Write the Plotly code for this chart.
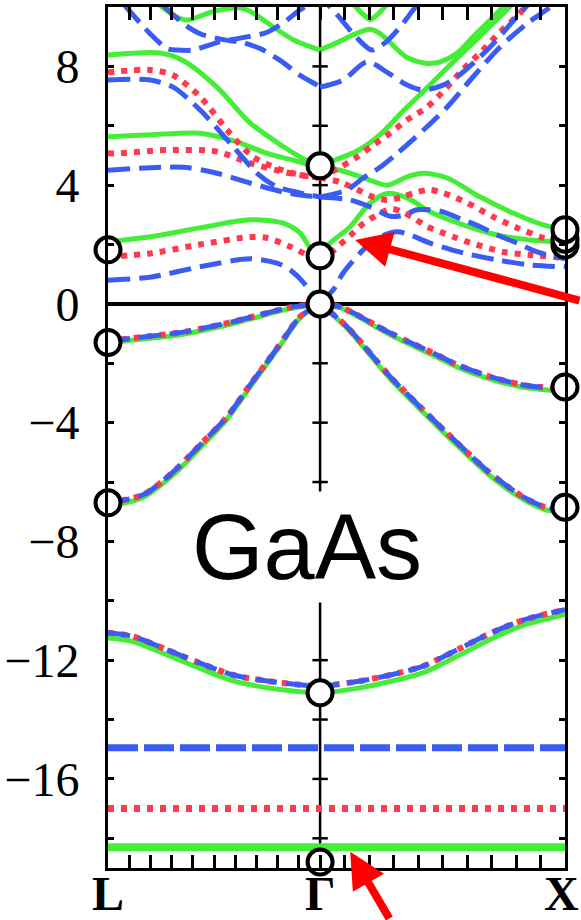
import numpy as np
import plotly.graph_objects as go

# ---------------- special k-points ----------------
K_L, K_G, K_X = 0.0, 0.866, 1.866
sym_k = [K_L, K_G, K_X]
sym_labels = ["L", "Γ", "X"]
sym_label_shift = [0, 0, -4]

# ---------------- valence bands ----------------
vb1_lg_k = [0.0, 0.102, 0.306, 0.511, 0.743, 0.866]
vb1_lg_e_blue = [-1.25, -1.15, -0.95, -0.60, -0.12, 0.0]
vb1_lg_e_green = [-1.32, -1.22, -1.02, -0.66, -0.16, 0.0]

vb2_lg_k = [0.0, 0.143, 0.266, 0.376, 0.486, 0.580, 0.650, 0.715, 0.784, 0.866]
vb2_lg_e_blue = [-6.70, -6.43, -5.66, -4.75, -3.80, -2.73, -1.95, -1.21, -0.43, 0.0]
vb2_lg_e_green = [-6.82, -6.52, -5.76, -4.85, -3.88, -2.80, -2.01, -1.26, -0.47, 0.0]

vb1_gx_k = [0.866, 0.948, 1.152, 1.344, 1.426, 1.560, 1.695, 1.806, 1.866]
vb1_gx_e_blue = [0.0, -0.10, -0.98, -1.72, -2.05, -2.45, -2.73, -2.83, -2.85]
vb1_gx_e_green = [0.0, -0.13, -1.04, -1.80, -2.13, -2.53, -2.81, -2.91, -2.93]

vb2_gx_k = [0.866, 0.976, 1.152, 1.287, 1.426, 1.560, 1.695, 1.793, 1.866]
vb2_gx_e_blue = [0.0, -0.77, -2.45, -3.57, -4.68, -5.70, -6.50, -6.87, -6.92]
vb2_gx_e_green = [0.0, -0.82, -2.52, -3.65, -4.77, -5.79, -6.58, -6.95, -7.00]

s_k = [0.0, 0.102, 0.241, 0.376, 0.511, 0.650, 0.784, 0.866, 1.017, 1.152, 1.287, 1.426, 1.560, 1.695, 1.866]
s_e_blue = [-11.08, -11.20, -11.65, -12.10, -12.50, -12.70, -12.83, -12.87, -12.72, -12.50, -12.20, -11.65, -11.10, -10.65, -10.30]
s_e_green = [-11.25, -11.37, -11.82, -12.28, -12.70, -12.93, -13.06, -13.10, -12.95, -12.72, -12.42, -11.87, -11.30, -10.83, -10.46]

d_k = [0.0, 1.866]
d_e_blue = [-14.95, -14.95]
d_e_red = [-17.0, -17.0]
d_e_green = [-18.3, -18.3]

# ---------------- blue (dashed) conduction bands ----------------
b_c1_lg_k = [0.0, 0.172, 0.376, 0.580, 0.690, 0.743, 0.784, 0.825, 0.866]
b_c1_lg_e = [0.80, 0.90, 1.25, 1.52, 1.37, 1.15, 0.85, 0.45, 0.05]
b_c1_gx_k = [0.866, 0.919, 0.960, 1.042, 1.111, 1.181, 1.234, 1.315, 1.450, 1.589, 1.724, 1.866]
b_c1_gx_e = [0.05, 0.47, 1.04, 1.82, 2.26, 2.43, 2.32, 2.05, 1.72, 1.48, 1.31, 1.25]
b_c2_lg_k = [0.0, 0.306, 0.445, 0.580, 0.715, 0.784, 0.866]
b_c2_lg_e = [4.50, 4.60, 4.40, 4.07, 3.77, 3.67, 3.60]
b_c3_lg_k = [0.0, 0.172, 0.266, 0.376, 0.511, 0.609, 0.690, 0.784, 0.866]
b_c3_lg_e = [7.54, 7.54, 7.30, 6.53, 5.30, 4.40, 3.94, 3.74, 3.60]
b_c2_gx_k = [0.866, 0.989, 1.070, 1.152, 1.201, 1.262, 1.315, 1.368, 1.450, 1.520, 1.589, 1.671, 1.752, 1.866]
b_c2_gx_e = [3.60, 3.50, 3.27, 2.95, 2.98, 3.17, 3.17, 3.10, 2.83, 2.60, 2.32, 2.05, 1.75, 1.52]
b_c3_gx_k = [0.866, 0.976, 1.042, 1.111, 1.181, 1.287, 1.385, 1.491, 1.601, 1.712, 1.806, 1.830]
b_c3_gx_e = [3.60, 3.84, 4.24, 4.60, 5.07, 5.85, 6.63, 7.65, 8.65, 9.45, 10.0, 10.2]
b_c4_lg_k = [0.225, 0.306, 0.376, 0.470, 0.551, 0.621, 0.703, 0.784, 0.854, 0.866]
b_c4_lg_e = [10.05, 9.45, 9.10, 8.90, 8.80, 8.60, 8.20, 7.70, 7.37, 7.30]
b_c4_gx_k = [0.866, 0.960, 1.058, 1.140, 1.221, 1.287, 1.368, 1.426, 1.548, 1.630, 1.683, 1.712]
b_c4_gx_e = [7.30, 7.54, 8.15, 7.80, 7.37, 7.20, 7.37, 7.65, 8.55, 9.30, 9.80, 10.05]
b_c5_k = [0.069, 0.172, 0.241, 0.282, 0.347, 0.445, 0.539, 0.650, 0.731, 0.784, 0.866,
          0.907, 1.001, 1.042, 1.078, 1.132, 1.193, 1.246, 1.266]
b_c5_e = [10.05, 9.10, 8.60, 8.55, 8.55, 8.80, 8.95, 9.15, 9.56, 9.90, 10.25,
          10.0, 9.10, 8.75, 8.55, 8.80, 9.33, 9.90, 10.1]

# ---------------- red (dotted) conduction bands ----------------
r_c1_lg_k = [0.0, 0.172, 0.376, 0.580, 0.650, 0.743, 0.825, 0.866]
r_c1_lg_e = [1.58, 1.70, 2.00, 2.25, 2.22, 1.93, 1.60, 1.45]
r_c1_gx_k = [0.866, 0.907, 0.948, 0.989, 1.042, 1.111, 1.160, 1.201, 1.246, 1.303, 1.356, 1.409, 1.467, 1.614, 1.724, 1.866]
r_c1_gx_e = [1.45, 1.70, 2.00, 2.30, 2.70, 3.05, 3.20, 3.10, 2.90, 2.60, 2.43, 2.26, 2.09, 1.75, 1.65, 1.55]
r_c2_lg_k = [0.0, 0.037, 0.241, 0.445, 0.580, 0.715, 0.784, 0.866]
r_c2_lg_e = [5.07, 5.07, 5.18, 5.13, 4.74, 4.45, 4.34, 4.25]
r_c3_lg_k = [0.0, 0.172, 0.266, 0.376, 0.486, 0.592, 0.690, 0.784, 0.866]
r_c3_lg_e = [7.80, 7.88, 7.70, 6.98, 5.86, 4.96, 4.57, 4.34, 4.25]
r_c2_gx_k = [0.866, 0.948, 1.017, 1.083, 1.140, 1.201, 1.262, 1.315, 1.368, 1.467, 1.573, 1.671, 1.777, 1.834, 1.866]
r_c2_gx_e = [4.25, 4.10, 3.85, 3.60, 3.50, 3.60, 3.77, 3.84, 3.74, 3.40, 2.93, 2.56, 2.22, 2.05, 2.00]
r_c3_gx_k = [0.866, 0.948, 1.017, 1.083, 1.152, 1.221, 1.303, 1.377, 1.450, 1.528, 1.601, 1.675, 1.708]
r_c3_gx_e = [4.25, 4.60, 4.95, 5.35, 5.75, 6.20, 6.63, 7.23, 7.90, 8.52, 9.16, 9.73, 10.05]

# ---------------- green (solid) conduction bands ----------------
g_c1_lg_k = [0.0, 0.172, 0.376, 0.580, 0.715, 0.784, 0.825, 0.866]
g_c1_lg_e = [2.09, 2.26, 2.56, 2.83, 2.72, 2.39, 1.90, 1.65]
g_c1_gx_k = [0.866, 0.907, 0.989, 1.070, 1.140, 1.221, 1.315, 1.450, 1.589, 1.724, 1.834, 1.866]
g_c1_gx_e = [1.65, 2.05, 2.60, 3.40, 3.72, 3.57, 3.10, 2.66, 2.32, 2.15, 2.09, 2.08]
g_c2_lg_k = [0.0, 0.172, 0.376, 0.511, 0.650, 0.784, 0.866]
g_c2_lg_e = [5.63, 5.70, 5.75, 5.50, 5.07, 4.78, 4.60]
g_c3_lg_k = [0.0, 0.212, 0.306, 0.445, 0.580, 0.715, 0.784, 0.866]
g_c3_lg_e = [8.38, 8.45, 8.20, 7.30, 6.10, 5.30, 4.95, 4.60]
g_c2_gx_k = [0.866, 0.948, 1.042, 1.140, 1.221, 1.287, 1.385, 1.520, 1.654, 1.777, 1.834, 1.866]
g_c2_gx_e = [4.60, 4.50, 4.25, 4.00, 4.28, 4.40, 4.24, 3.60, 3.06, 2.66, 2.56, 2.55]
g_c3_gx_k = [0.866, 0.919, 1.017, 1.111, 1.205, 1.287, 1.385, 1.479, 1.560, 1.634, 1.650]
g_c3_gx_e = [4.60, 4.82, 5.15, 5.70, 6.50, 7.15, 7.95, 8.70, 9.35, 9.95, 10.1]
g_c4_lg_k = [0.212, 0.274, 0.323, 0.429, 0.539, 0.592, 0.674, 0.756, 0.866]
g_c4_lg_e = [10.05, 9.70, 9.56, 9.85, 9.97, 9.80, 9.33, 8.90, 8.55]
g_c4_gx_k = [0.866, 0.948, 1.017, 1.070, 1.111, 1.152, 1.221, 1.303, 1.356, 1.426, 1.491, 1.560, 1.614, 1.630]
g_c4_gx_e = [8.55, 8.85, 9.12, 9.25, 9.10, 8.80, 8.30, 8.10, 8.15, 8.45, 9.00, 9.56, 10.0, 10.1]
g_c5_k = [1.001, 1.042, 1.070, 1.101, 1.140]
g_c5_e = [10.1, 9.75, 9.58, 9.75, 10.1]

# ---------------- experimental points (circles) ----------------
exp_k = [0.0, 0.0, 0.0, 0.866, 0.866, 0.866, 0.866, 0.866, 1.866, 1.866, 1.866, 1.866, 1.866]
exp_e = [1.82, -1.30, -6.70, 4.65, 1.62, 0.0, -13.10, -18.80, 1.98, 2.18, 2.50, -2.80, -6.85]

# axis ticks
y_tick_vals = list(range(-18, 10, 2))

GREEN = "#45ee36"
RED = "#ff3a4f"
BLUE = "#3b5cf2"

green_bands = [
    (vb1_lg_k, vb1_lg_e_green), (vb2_lg_k, vb2_lg_e_green),
    (vb1_gx_k, vb1_gx_e_green), (vb2_gx_k, vb2_gx_e_green),
    (s_k, s_e_green),
    (g_c1_lg_k, g_c1_lg_e), (g_c1_gx_k, g_c1_gx_e),
    (g_c2_lg_k, g_c2_lg_e), (g_c3_lg_k, g_c3_lg_e),
    (g_c2_gx_k, g_c2_gx_e), (g_c3_gx_k, g_c3_gx_e),
    (g_c4_lg_k, g_c4_lg_e), (g_c4_gx_k, g_c4_gx_e), (g_c5_k, g_c5_e),
]
red_bands = [
    (vb1_lg_k, vb1_lg_e_blue), (vb2_lg_k, vb2_lg_e_blue),
    (vb1_gx_k, vb1_gx_e_blue), (vb2_gx_k, vb2_gx_e_blue),
    (s_k, s_e_blue),
    (r_c1_lg_k, r_c1_lg_e), (r_c1_gx_k, r_c1_gx_e),
    (r_c2_lg_k, r_c2_lg_e), (r_c3_lg_k, r_c3_lg_e),
    (r_c2_gx_k, r_c2_gx_e), (r_c3_gx_k, r_c3_gx_e),
]
blue_bands = [
    (vb1_lg_k, vb1_lg_e_blue), (vb2_lg_k, vb2_lg_e_blue),
    (vb1_gx_k, vb1_gx_e_blue), (vb2_gx_k, vb2_gx_e_blue),
    (s_k, s_e_blue),
    (b_c1_lg_k, b_c1_lg_e), (b_c1_gx_k, b_c1_gx_e),
    (b_c2_lg_k, b_c2_lg_e), (b_c3_lg_k, b_c3_lg_e),
    (b_c2_gx_k, b_c2_gx_e), (b_c3_gx_k, b_c3_gx_e),
    (b_c4_lg_k, b_c4_lg_e), (b_c4_gx_k, b_c4_gx_e), (b_c5_k, b_c5_e),
]

fig = go.Figure()

# Gamma vertical line with cross ticks
fig.add_shape(type="line", x0=K_G, x1=K_G, y0=-19, y1=10, xref="x", yref="y",
              line=dict(color="black", width=2.5), layer="below")
fig.add_trace(go.Scatter(x=[K_G] * len(y_tick_vals), y=y_tick_vals, mode="markers",
                         marker=dict(symbol="line-ew", size=11, line=dict(color="black", width=2.5)),
                         hoverinfo="skip", showlegend=False))


def add_band(k, e, color, width, dash):
    fig.add_trace(go.Scatter(x=k, y=e, mode="lines", line=dict(color=color, width=width, dash=dash,
                                                              shape="spline", smoothing=0.8),
                             hoverinfo="skip", showlegend=False))


for k, e in green_bands:
    add_band(k, e, GREEN, 5, "solid")
add_band(d_k, d_e_green, GREEN, 8, "solid")
for k, e in red_bands:
    add_band(k, e, RED, 6, "6px,7px")
add_band(d_k, d_e_red, RED, 7, "6px,7px")
for k, e in blue_bands:
    add_band(k, e, BLUE, 5, "22px,9px")
add_band(d_k, d_e_blue, BLUE, 7, "30px,6px")

# experimental circles
fig.add_trace(go.Scatter(x=exp_k, y=exp_e, mode="markers", cliponaxis=False,
                         marker=dict(size=25, color="white", line=dict(color="black", width=4)),
                         hoverinfo="skip", showlegend=False))

# x ticks: 10 subdivisions on each segment (labels drawn as annotations below)
x_tick_vals = list(np.linspace(K_L, K_G, 11)) + list(np.linspace(K_G, K_X, 11))[1:]

y_tick_text = [("\u2212" + str(-v) if v < 0 else str(v)) if v % 4 == 0 else "" for v in y_tick_vals]

fig.update_layout(
    width=581, height=920,
    margin=dict(l=108, r=16, t=7, b=52),
    paper_bgcolor="white", plot_bgcolor="white",
    showlegend=False,
    xaxis=dict(range=[K_L, K_X], tickvals=x_tick_vals, showticklabels=False,
               ticks="inside", ticklen=13, tickwidth=2.5, tickcolor="black",
               showline=True, linewidth=3, linecolor="black", mirror="ticks",
               showgrid=False, zeroline=False, automargin=False),
    yaxis=dict(range=[-19, 10], tickvals=y_tick_vals, ticktext=y_tick_text,
               ticks="inside", ticklen=6, tickwidth=2.5, tickcolor="black",
               showline=True, linewidth=3, linecolor="black", mirror="ticks",
               showgrid=False, zeroline=True, zerolinecolor="black", zerolinewidth=3.5,
               ticklabelstandoff=16, automargin=False,
               tickfont=dict(family="Liberation Serif", size=48, color="black")),
)

# symmetry point labels under the axis
for kv, lab, sh in zip(sym_k, sym_labels, sym_label_shift):
    fig.add_annotation(x=kv, y=-0.0615, xref="x", yref="paper", yanchor="bottom",
                       xshift=sh, text="<b>" + lab + "</b>", showarrow=False, borderpad=0,
                       font=dict(family="Liberation Serif", size=48, color="black"))

fig.add_annotation(x=0.813, y=-8.18, xref="x", yref="y", text="GaAs", showarrow=False,
                   font=dict(family="Liberation Sans", size=92, color="black"),
                   bgcolor="white", borderpad=4)

# red arrows
fig.add_annotation(x=1.009, y=2.155, xref="x", yref="y", text="", showarrow=True,
                   ax=265, ay=61, arrowcolor="#ff0000", arrowwidth=8, arrowhead=2,
                   arrowsize=0.9, standoff=0)
fig.add_annotation(x=0.989, y=-18.45, xref="x", yref="y", text="", showarrow=True,
                   ax=40, ay=90, arrowcolor="#ff0000", arrowwidth=8, arrowhead=2,
                   arrowsize=0.9, standoff=0)

fig.write_html("out.html")
